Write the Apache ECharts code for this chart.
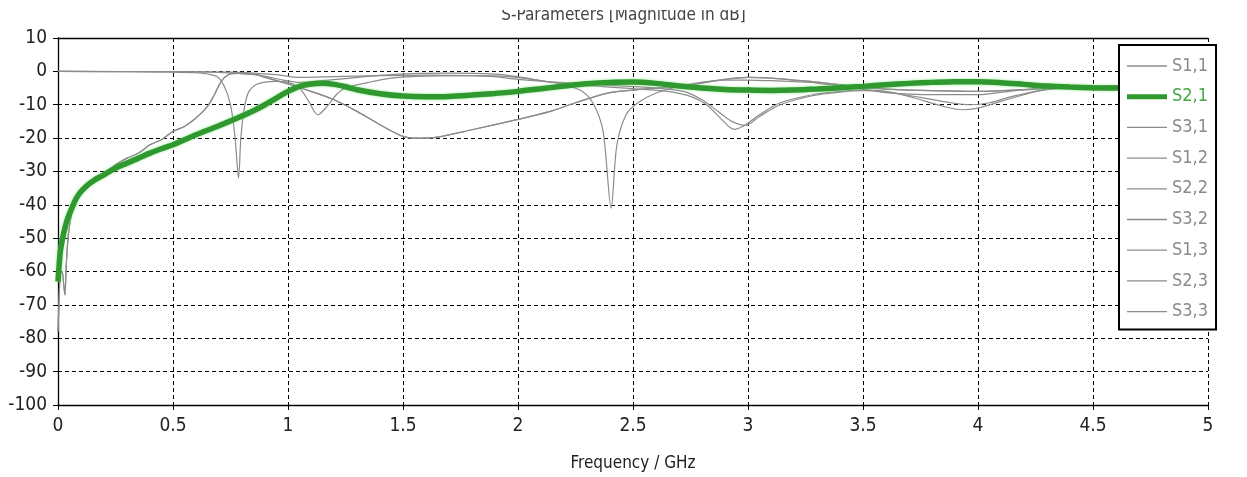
<!DOCTYPE html>
<html>
<head>
<meta charset="utf-8">
<script src="https://cdn.jsdelivr.net/npm/echarts@6/dist/echarts.min.js"></script>
<style>
  html, body { margin: 0; padding: 0; background: #fff; }
  #chart { width: 1247px; height: 477px; }
</style>
</head>
<body>
<div id="chart"></div>
<script>
// S-parameter magnitudes, [frequency GHz, dB]
const s11 = [[0,0],[0.3,-0.1],[0.5,-0.2],[0.6,-0.4],[0.65,-0.8],[0.69,-1.5],[0.72,-4],[0.75,-10],[0.77,-20],[0.785,-32],
  [0.795,-20],[0.81,-11],[0.83,-6],[0.86,-4],[0.9,-3.2],[0.95,-3],[1.0,-3.3],[1.05,-5],[1.09,-9],[1.13,-13],
  [1.17,-10.5],[1.21,-7],[1.25,-5],[1.35,-3.3],[1.45,-2],[1.6,-1.4],[1.8,-1.3],[1.95,-1.5],[2.1,-2.8],[2.2,-4],
  [2.28,-6],[2.33,-10],[2.37,-18],[2.405,-41],[2.43,-22],[2.47,-13],[2.52,-9.5],[2.6,-6.5],[2.7,-4.5],[2.8,-3.2],
  [2.9,-2.6],[3.0,-2.6],[3.1,-2.8],[3.2,-3.1],[3.3,-3.5],[3.5,-5.3],[3.6,-6.4],[3.7,-6.8],[3.8,-7],[4.0,-7],
  [4.1,-6.3],[4.2,-5.5],[4.3,-4.9],[4.5,-4.4],[5.0,-4.0]];

const s21 = [[0,-63],[0.005,-58],[0.01,-54],[0.02,-50],[0.03,-47],[0.04,-44.5],[0.06,-41],[0.08,-38],[0.1,-36],[0.13,-34],
  [0.16,-32.5],[0.2,-31],[0.25,-29],[0.3,-27.5],[0.35,-26],[0.4,-24.5],[0.45,-23.2],[0.5,-22],[0.6,-19],[0.7,-16.3],
  [0.78,-14],[0.85,-11.8],[0.9,-10],[0.95,-8],[1.0,-6],[1.05,-4.5],[1.1,-3.8],[1.15,-3.6],[1.2,-3.9],[1.25,-4.6],
  [1.3,-5.5],[1.4,-6.7],[1.5,-7.4],[1.6,-7.6],[1.7,-7.5],[1.8,-7.1],[1.9,-6.6],[2.0,-6.0],[2.1,-5.2],[2.2,-4.4],
  [2.3,-3.7],[2.4,-3.3],[2.5,-3.2],[2.6,-3.6],[2.7,-4.4],[2.8,-5.0],[2.9,-5.4],[3.0,-5.6],[3.1,-5.7],[3.2,-5.6],
  [3.3,-5.3],[3.4,-4.9],[3.5,-4.5],[3.6,-4.0],[3.7,-3.6],[3.8,-3.3],[3.9,-3.1],[4.0,-3.1],[4.1,-3.4],[4.2,-3.9],
  [4.3,-4.4],[4.4,-4.7],[4.5,-4.9],[4.6,-5.0],[4.8,-5.0],[5.0,-5.0]];

const s31 = [[0,-60],[0.01,-52],[0.02,-48],[0.04,-44],[0.06,-40],[0.08,-37.5],[0.1,-35.5],[0.15,-32.5],[0.2,-30.5],[0.25,-28],
  [0.3,-26],[0.35,-24.5],[0.4,-22],[0.45,-20.5],[0.5,-18],[0.55,-16.5],[0.6,-14],[0.65,-10.5],[0.68,-7],[0.71,-3],
  [0.74,-1],[0.78,-0.6],[0.85,-0.8],[0.9,-1.8],[1.0,-3.8],[1.1,-6],[1.2,-8.5],[1.3,-12],[1.4,-16],[1.5,-19.5],
  [1.55,-20],[1.65,-19.7],[1.8,-17.5],[2.0,-14.4],[2.14,-12],[2.25,-9.4],[2.39,-6.5],[2.5,-5.6],[2.6,-5],[2.7,-4.4],
  [2.8,-3.5],[2.9,-2.4],[3.0,-1.8],[3.1,-2.0],[3.2,-2.6],[3.3,-3.2],[3.4,-4],[3.5,-4.8],[3.6,-5.3],[3.8,-5.8],
  [4.0,-6],[4.2,-5.5],[4.4,-4.8],[4.6,-4.4],[5.0,-4.2]];

const s22 = [[0,0],[0.5,-0.1],[0.7,-0.3],[0.8,-0.7],[0.88,-1.2],[0.98,-2.6],[1.05,-3.3],[1.15,-2.8],[1.27,-2],[1.4,-1.2],
  [1.57,-0.6],[1.7,-0.5],[1.9,-0.8],[2.0,-1.6],[2.14,-3.2],[2.3,-4.2],[2.5,-5.2],[2.65,-6],[2.75,-7.5],[2.82,-10],
  [2.88,-14],[2.94,-17.4],[2.99,-16],[3.05,-13],[3.14,-9.4],[3.28,-7],[3.4,-6],[3.5,-5.6],[3.6,-6],[3.72,-7.9],
  [3.85,-10.5],[3.93,-11.5],[4.0,-11],[4.1,-9],[4.2,-7],[4.31,-5.2],[4.5,-4.6],[5.0,-4.2]];

const s32 = [[0,-78],[0.004,-70],[0.01,-61],[0.018,-60],[0.025,-64],[0.03,-67],[0.036,-58],[0.045,-49],[0.06,-42.5],[0.08,-38.5],
  [0.1,-36],[0.13,-33.8],[0.16,-32.3],[0.2,-30.6],[0.25,-28.6],[0.3,-27],[0.35,-25.6],[0.4,-24.2],[0.45,-23],[0.5,-21.8],
  [0.6,-18.9],[0.7,-16.2],[0.78,-13.9],[0.85,-11.6],[0.9,-9.9],[0.95,-7.9],[1.0,-5.9],[1.05,-4.5],[1.1,-3.9],[1.15,-3.7],
  [1.2,-4.0],[1.3,-5.4],[1.4,-6.6],[1.5,-7.3],[1.6,-7.5],[1.8,-7.0],[2.0,-5.9],[2.2,-4.3],[2.3,-3.6],[2.4,-3.2],
  [2.5,-3.1],[2.6,-3.5],[2.7,-4.3],[2.8,-4.9],[3.0,-5.5],[3.2,-5.5],[3.4,-4.8],[3.6,-3.9],[3.8,-3.2],[4.0,-3.0],
  [4.2,-3.8],[4.4,-4.6],[4.6,-4.9],[5.0,-4.9]];

const s33 = [[0,0],[0.5,-0.1],[0.75,-0.2],[0.85,-0.5],[0.95,-1],[1.05,-1.8],[1.2,-1.6],[1.4,-1.3],[1.6,-1.1],[1.8,-1.3],
  [1.9,-1.6],[2.0,-2.4],[2.2,-3.4],[2.4,-4.2],[2.6,-5],[2.72,-6],[2.8,-8.5],[2.87,-12],[2.93,-15],[2.99,-16.2],
  [3.05,-13.5],[3.14,-10],[3.28,-7.3],[3.4,-6.2],[3.5,-5.8],[3.6,-6.2],[3.75,-7.8],[3.88,-9.4],[3.97,-10],[4.05,-9.4],
  [4.15,-7.5],[4.3,-5.5],[4.5,-4.6],[5.0,-4.3]];

// legend order; reciprocal pairs (S12=S21, S13=S31, S23=S32) share their curves
const names = ['S1,1', 'S2,1', 'S3,1', 'S1,2', 'S2,2', 'S3,2', 'S1,3', 'S2,3', 'S3,3'];
const curves = [s11, s21, s31, s21, s22, s32, s31, s32, s33];
const highlighted = 'S2,1';

const FONT = '"DejaVu Sans Condensed", "Liberation Sans Narrow", sans-serif';
const GRAY = '#8c8c8c';
const GREEN = '#2f992f';

// legend swatches: plain strokes, thick for the highlighted trace
const THIN_ICON = 'path://M0,0 L40,0 L40,1.3 L0,1.3 Z';
const THICK_ICON = 'path://M0,0 L40,0 L40,5 L0,5 Z';

const series = names.map((name, i) => {
  const hot = name === highlighted;
  return {
    name: name,
    type: 'line',
    data: curves[i],
    symbol: 'none',
    smooth: 0.3,
    z: hot ? 5 : 2,
    lineStyle: hot
      ? { color: GREEN, width: 5.5, shadowColor: 'rgba(110,225,110,0.7)', shadowBlur: 3 }
      : { color: GRAY, width: 1.2 },
    itemStyle: { color: hot ? GREEN : GRAY }
  };
});

const chart = echarts.init(document.getElementById('chart'), null, { renderer: 'canvas' });
chart.setOption({
  animation: false,
  backgroundColor: '#fff',
  title: {
    text: 'S-Parameters [Magnitude in dB]',
    left: 'center',
    top: 7,
    padding: 0,
    textStyle: { fontFamily: FONT, fontSize: 17, fontWeight: 'normal', color: '#444' }
  },
  graphic: [{
    type: 'rect', left: 0, top: 0, z: 100,
    shape: { width: 1247, height: 10 },
    style: { fill: '#fff' }
  }],
  grid: { left: 58, right: 39, top: 38, bottom: 69 },
  legend: {
    orient: 'vertical',
    left: 1119,
    top: 45,
    padding: [12, 8, 9, 8],
    itemWidth: 40,
    itemHeight: 14,
    itemGap: 12.7,
    symbolKeepAspect: true,
    borderColor: '#000',
    borderWidth: 2,
    borderRadius: 0,
    backgroundColor: '#fff',
    z: 20,
    textStyle: { fontFamily: FONT, fontSize: 18, color: '#8a8a8a', lineHeight: 14 },
    data: names.map(n => n === highlighted
      ? { name: n, icon: THICK_ICON, textStyle: { color: '#46a746' } }
      : { name: n, icon: THIN_ICON })
  },
  xAxis: [{
    type: 'value',
    min: 0, max: 5, interval: 0.5,
    name: 'Frequency / GHz',
    nameLocation: 'middle',
    nameGap: 50,
    nameTextStyle: { fontFamily: FONT, fontSize: 17, color: '#222' },
    axisLine: { show: true, onZero: false, lineStyle: { color: '#000', width: 1.3 } },
    axisTick: { show: true, length: 5, lineStyle: { color: '#000' } },
    axisLabel: { fontFamily: FONT, fontSize: 19, color: '#222', margin: 12 },
    splitLine: { show: true, lineStyle: { color: '#000', width: 1, type: [4, 3] } }
  }, {
    type: 'value',
    position: 'top',
    min: 0, max: 5,
    axisLine: { show: true, onZero: false, lineStyle: { color: '#000', width: 1.3 } },
    axisTick: { show: false },
    axisLabel: { show: false },
    splitLine: { show: false }
  }],
  yAxis: {
    type: 'value',
    min: -100, max: 10, interval: 10,
    axisLine: { show: true, onZero: false, lineStyle: { color: '#000', width: 1.3 } },
    axisTick: { show: true, length: 5, lineStyle: { color: '#000' } },
    axisLabel: { fontFamily: FONT, fontSize: 19, color: '#222', margin: 11 },
    splitLine: { show: true, lineStyle: { color: '#000', width: 1, type: [4, 3] } }
  },
  series: series
});
</script>
</body>
</html>
